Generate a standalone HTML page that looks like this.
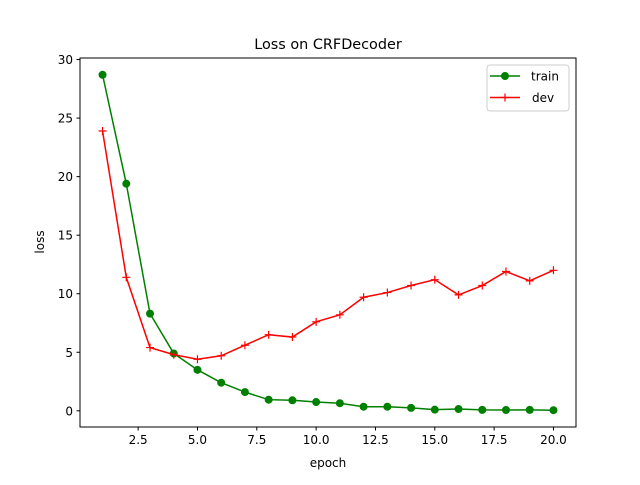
<!DOCTYPE html>
<html><head><meta charset="utf-8"><style>
body{margin:0;background:#fff}
svg{font-family:"DejaVu Sans","Liberation Sans",sans-serif}
</style></head><body>
<svg id="chart" width="640" height="480" xmlns="http://www.w3.org/2000/svg">
<rect width="640" height="480" fill="#fff"/>
<text x="328" y="49" font-size="14.4" text-anchor="middle">Loss on CRFDecoder</text>
<g id="plot"></g>
<rect x="80" y="58" width="496" height="369" fill="none" stroke="#000" stroke-width="1"/>
<text x="328" y="467" font-size="12" text-anchor="middle">epoch</text>
<text x="44" y="242" font-size="12" text-anchor="middle" transform="rotate(-90 44 242)">loss</text>
<g>
<rect x="487" y="65" width="82" height="46" rx="3" fill="#fff" fill-opacity="0.8" stroke="#ccc"/>
<g>
<line x1="490" y1="76" x2="520" y2="76" stroke="green" stroke-width="1.5"/><circle cx="505" cy="76" r="4" fill="green"/>
<text x="531" y="80.5" font-size="12">train</text></g>
<g>
<line x1="490" y1="97.5" x2="520" y2="97.5" stroke="red" stroke-width="1.5"/>
<path d="M501 97.5h8M505 93.5v8" stroke="red" stroke-width="1.2"/>
<text x="532" y="102" font-size="12">dev</text></g>
</g>
</svg>
<script>
const epochs=[1,2,3,4,5,6,7,8,9,10,11,12,13,14,15,16,17,18,19,20];
const trainLoss=[28.7,19.4,8.3,4.9,3.5,2.4,1.6,0.95,0.9,0.75,0.65,0.35,0.35,0.25,0.1,0.15,0.08,0.07,0.08,0.05];
const devLoss=[23.9,11.4,5.4,4.8,4.4,4.7,5.6,6.5,6.3,7.6,8.2,9.7,10.1,10.7,11.2,9.9,10.7,11.9,11.1,12.0];
const xTicks=[2.5,5,7.5,10,12.5,15,17.5,20];
const yTicks=[0,5,10,15,20,25,30];
const L=80,R=576,T=58,B=427;
const xmin=0.05,xmax=20.95;
const all=trainLoss.concat(devLoss);
const dmin=Math.min(...all),dmax=Math.max(...all),pad=(dmax-dmin)*0.05;
const ymin=dmin-pad,ymax=dmax+pad;
const sx=v=>L+(v-xmin)/(xmax-xmin)*(R-L);
const sy=v=>B-(v-ymin)/(ymax-ymin)*(B-T);
const NS="http://www.w3.org/2000/svg";
const g=document.getElementById('plot');
function mk(t,a){const e=document.createElementNS(NS,t);for(const k in a)e.setAttribute(k,a[k]);g.appendChild(e);return e;}
xTicks.forEach(v=>{const x=sx(v);
const t=mk('line',{x1:x,y1:B,x2:x,y2:B+3.5,stroke:'#000'});


const l=mk('text',{x:x,y:B+17,'font-size':12,'text-anchor':'middle'});l.textContent=v.toFixed(1);

});
yTicks.forEach(v=>{const y=sy(v);
const t=mk('line',{x1:L-3.5,y1:y,x2:L,y2:y,stroke:'#000'});


const l=mk('text',{x:L-7,y:y+4.5,'font-size':12,'text-anchor':'end'});l.textContent=v;

});
const tp=mk('polyline',{points:epochs.map((e,i)=>sx(e)+','+sy(trainLoss[i])).join(' '),fill:'none',stroke:'green','stroke-width':1.5});


epochs.forEach((e,i)=>{const c=mk('circle',{cx:sx(e),cy:sy(trainLoss[i]),r:4,fill:'green'});

});
const dp=mk('polyline',{points:epochs.map((e,i)=>sx(e)+','+sy(devLoss[i])).join(' '),fill:'none',stroke:'red','stroke-width':1.5});


epochs.forEach((e,i)=>{const x=sx(e),y=sy(devLoss[i]);
const p=mk('path',{d:`M${x-4} ${y}h8M${x} ${y-4}v8`,stroke:'red','stroke-width':1.2});

});
</script>
</body></html>
